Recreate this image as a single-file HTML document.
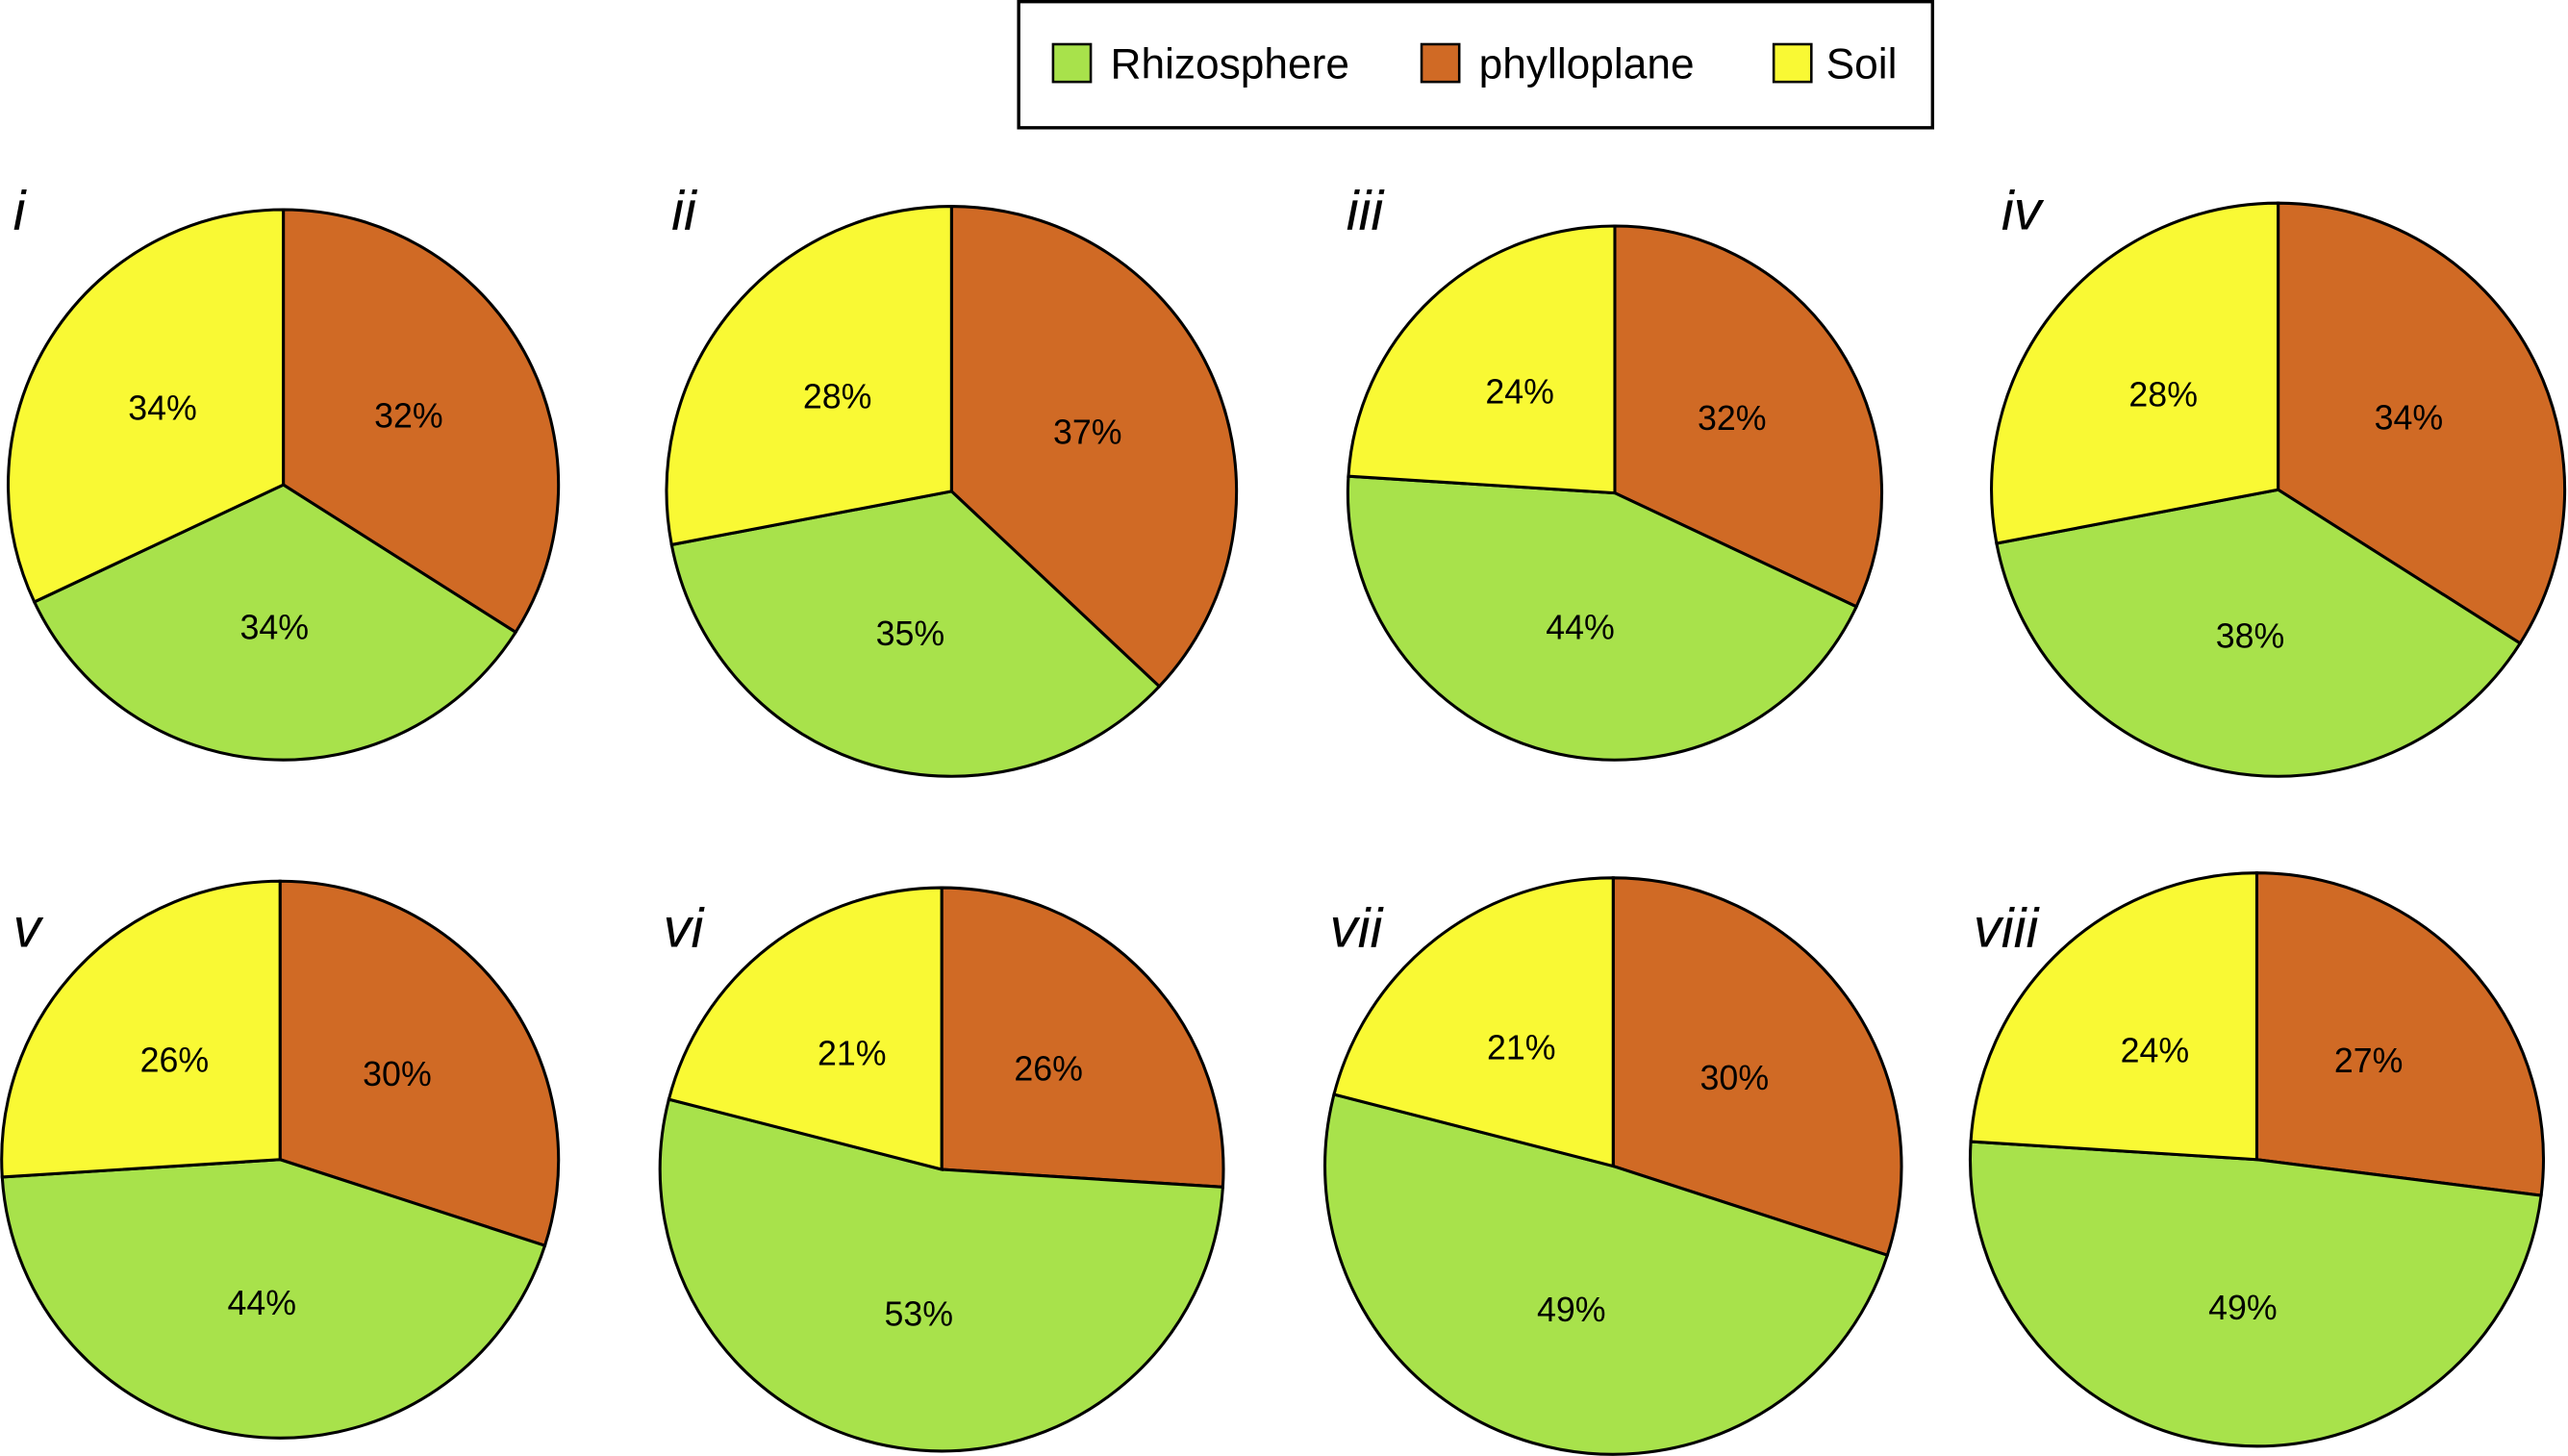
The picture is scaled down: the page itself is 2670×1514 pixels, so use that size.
<!DOCTYPE html>
<html><head><meta charset="utf-8"><style>html,body{margin:0;padding:0;background:#fff}svg{display:block}</style></head>
<body>
<svg id="chart" width="2670" height="1514" viewBox="0 0 1568 889" preserveAspectRatio="none" xmlns="http://www.w3.org/2000/svg" font-family="Liberation Sans, sans-serif">
<g>
<rect x="622" y="1" width="558" height="77" fill="#fff" stroke="#000" stroke-width="2"/>
<rect x="643" y="27" width="23" height="23" fill="#a8e24b" stroke="#000" stroke-width="1.5"/>
<text x="678" y="48" font-size="26">Rhizosphere</text>
<rect x="868" y="27" width="23" height="23" fill="#d06a25" stroke="#000" stroke-width="1.5"/>
<text x="903" y="48" font-size="26">phylloplane</text>
<rect x="1083" y="27" width="23" height="23" fill="#f9f934" stroke="#000" stroke-width="1.5"/>
<text x="1115" y="48" font-size="26">Soil</text>
</g>
<g id="pies"></g>
</svg>
<script>
const panels = ["i","ii","iii","iv","v","vi","vii","viii"];
// slice sizes (as drawn)
const phylloplane = [34,37,32,34,30,26,30,27];
const rhizosphere = [34,35,44,38,44,53,49,49];
const soil = [32,28,24,28,26,21,21,24];
// printed labels
const phylloplaneLabels = ["32%","37%","32%","34%","30%","26%","30%","27%"];
const rhizosphereLabels = ["34%","35%","44%","38%","44%","53%","49%","49%"];
const soilLabels = ["34%","28%","24%","28%","26%","21%","21%","24%"];
const layout = [
 {cx:173,cy:296,r:168,lx:8,ly:140},{cx:581,cy:300,r:174,lx:410,ly:140},
 {cx:986,cy:301,r:163,lx:822,ly:140},{cx:1391,cy:299,r:175,lx:1222,ly:140},
 {cx:171,cy:708,r:170,lx:8,ly:578},{cx:575,cy:714,r:172,lx:405,ly:578},
 {cx:985,cy:712,r:176,lx:812,ly:578},{cx:1378,cy:708,r:175,lx:1205,ly:578}];
const colors = ["#d06a25","#a8e24b","#f9f934"];
const NS="http://www.w3.org/2000/svg";
const root=document.getElementById('pies');
function pt(c,a,r){return [c.cx+r*Math.sin(a), c.cy-r*Math.cos(a)];}
panels.forEach((p,i)=>{
  const c=layout[i];
  const vals=[phylloplane[i],rhizosphere[i],soil[i]];
  const labs=[phylloplaneLabels[i],rhizosphereLabels[i],soilLabels[i]];
  const tot=vals.reduce((a,b)=>a+b,0);
  const g=document.createElementNS(NS,'g');
  
  
  let a0=0;
  vals.forEach((v,k)=>{
    const a1=a0+v/tot*2*Math.PI;
    const s=pt(c,a0,c.r), e=pt(c,a1,c.r);
    const path=document.createElementNS(NS,'path');
    path.setAttribute('d',`M${c.cx},${c.cy}L${s[0]},${s[1]}A${c.r},${c.r} 0 ${a1-a0>Math.PI?1:0} 1 ${e[0]},${e[1]}Z`);
    path.setAttribute('fill',colors[k]);
    path.setAttribute('stroke','#000');
    path.setAttribute('stroke-width','1.8');
    
    
    g.appendChild(path);
    const m=(a0+a1)/2, l=pt(c,m,c.r*0.52);
    const t=document.createElementNS(NS,'text');
    t.setAttribute('x',l[0]);t.setAttribute('y',l[1]+7);
    t.setAttribute('text-anchor','middle');t.setAttribute('font-size','21');
    
    
    t.textContent=labs[k];
    g.appendChild(t);
    a0=a1;
  });
  const lab=document.createElementNS(NS,'text');
  lab.setAttribute('x',c.lx);lab.setAttribute('y',c.ly);
  lab.setAttribute('font-size','34');lab.setAttribute('font-style','italic');
  
  
  lab.textContent=p;
  g.appendChild(lab);
  root.appendChild(g);
});
</script>
</body></html>
